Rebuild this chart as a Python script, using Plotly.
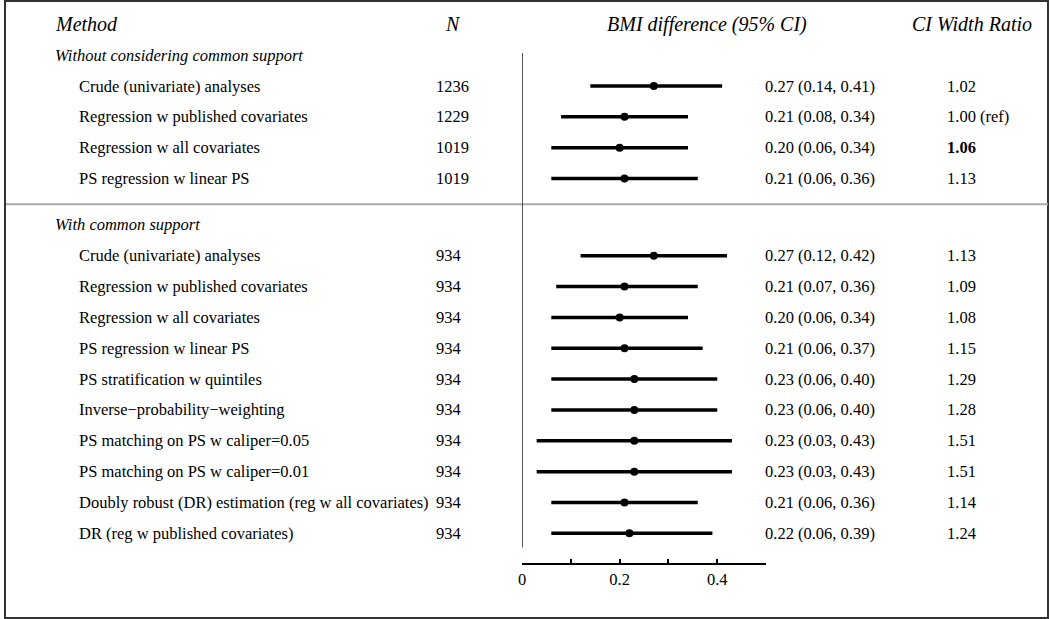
import plotly.graph_objects as go

# ---------------- data ----------------
group1_label = "Without considering common support"
group2_label = "With common support"

methods_g1 = ["Crude (univariate) analyses", "Regression w published covariates",
              "Regression w all covariates", "PS regression w linear PS"]
n_g1 = [1236, 1229, 1019, 1019]
est_g1 = [0.27, 0.21, 0.20, 0.21]
lo_g1 = [0.14, 0.08, 0.06, 0.06]
hi_g1 = [0.41, 0.34, 0.34, 0.36]
ratio_g1 = ["1.02", "1.00 (ref)", "<b>1.06</b>", "1.13"]

methods_g2 = ["Crude (univariate) analyses", "Regression w published covariates",
              "Regression w all covariates", "PS regression w linear PS",
              "PS stratification w quintiles", "Inverse\u2212probability\u2212weighting",
              "PS matching on PS w caliper=0.05", "PS matching on PS w caliper=0.01",
              "Doubly robust (DR) estimation (reg w all covariates)",
              "DR (reg w published covariates)"]
n_g2 = [934] * 10
est_g2 = [0.27, 0.21, 0.20, 0.21, 0.23, 0.23, 0.23, 0.23, 0.21, 0.22]
lo_g2 = [0.12, 0.07, 0.06, 0.06, 0.06, 0.06, 0.03, 0.03, 0.06, 0.06]
hi_g2 = [0.42, 0.36, 0.34, 0.37, 0.40, 0.40, 0.43, 0.43, 0.36, 0.39]
ratio_g2 = ["1.13", "1.09", "1.08", "1.15", "1.29", "1.28", "1.51", "1.51", "1.14", "1.24"]

headers = ["Method", "N", "BMI difference (95% CI)", "CI Width Ratio"]
tick_vals = [0, 0.1, 0.2, 0.3, 0.4, 0.5]
tick_text = ["0", "", "0.2", "", "0.4", ""]

# ---------------- layout helpers ----------------
W, H = 1050, 619
FONT = "Liberation Serif"
UNIT = 30.85          # px per row
FIRST_ROW_PX = 86.0   # pixel centre of first data row (row index 2)

rows_g1 = [2 + i for i in range(len(methods_g1))]
rows_g2 = [rows_g1[-1] + 2.5 + i for i in range(len(methods_g2))]
row_hdr, row_g1, row_g2 = 0, 1, rows_g1[-1] + 1.5
row_sep = rows_g1[-1] + 0.83

y_top = 2 - FIRST_ROW_PX / UNIT
y_bot = 2 + (H - FIRST_ROW_PX) / UNIT

def px(x):
    return x / W

methods = methods_g1 + methods_g2
ns = n_g1 + n_g2
est = est_g1 + est_g2
lo = lo_g1 + lo_g2
hi = hi_g1 + hi_g2
ratio = ratio_g1 + ratio_g2
cis = [f"{e:.2f} ({l:.2f}, {h:.2f})" for e, l, h in zip(est, lo, hi)]
rows = rows_g1 + rows_g2

fig = go.Figure()

# CI lines
lx, ly = [], []
for l, h, r in zip(lo, hi, rows):
    lx += [l, h, None]
    ly += [r, r, None]
fig.add_trace(go.Scatter(x=lx, y=ly, mode="lines",
                         line=dict(color="black", width=3.5),
                         hoverinfo="skip", showlegend=False))
fig.add_trace(go.Scatter(x=est, y=rows, mode="markers",
                         marker=dict(color="black", size=8),
                         showlegend=False))

ann = []
def add_text(x, y, text, size=16.5, anchor="left", italic=False):
    ann.append(dict(x=px(x), y=y, xref="paper", yref="y", text=text,
                    showarrow=False, xanchor=anchor, yanchor="middle",
                    font=dict(family=FONT, size=size, color="black",
                              style="italic" if italic else "normal")))

add_text(49, row_hdr, headers[0], 20, "left", True)
add_text(450.5, row_hdr, headers[1], 20, "center", True)
add_text(706, row_hdr, headers[2], 20, "center", True)
add_text(971.5, row_hdr, headers[3], 20, "center", True)
add_text(49, row_g1, group1_label, 16.5, "left", True)
add_text(49, row_g2, group2_label, 16.5, "left", True)

for m, n, c, rt, r in zip(methods, ns, cis, ratio, rows):
    add_text(73, r, m)
    add_text(432, r, str(n))
    add_text(762, r, c)
    add_text(945, r, rt)

shapes = [
    dict(type="rect", xref="paper", yref="paper", x0=px(1), x1=px(1048),
         y0=1 / H, y1=1 - 1 / H, line=dict(color="#333333", width=2)),
    dict(type="line", xref="paper", yref="y", x0=px(2), x1=px(1048),
         y0=row_sep, y1=row_sep, line=dict(color="#aaaaaa", width=2)),
    dict(type="line", xref="x", yref="y", x0=0, x1=0,
         y0=row_hdr + 0.93, y1=rows[-1] + 0.46, line=dict(color="#222222", width=1.5)),
]

fig.update_layout(
    width=W, height=H,
    margin=dict(l=0, r=0, t=0, b=0),
    paper_bgcolor="white", plot_bgcolor="white",
    annotations=ann, shapes=shapes,
    xaxis=dict(domain=[px(520), px(765)], range=[0, 0.5], anchor="free",
               position=1 - 564 / H, showline=True, linecolor="black",
               linewidth=1.5, ticks="inside", ticklen=4, tickwidth=1.5,
               tickcolor="black", tickvals=tick_vals, ticktext=tick_text,
               tickfont=dict(family=FONT, size=16.5, color="black"),
               showgrid=False, zeroline=False, fixedrange=True),
    yaxis=dict(domain=[0, 1], range=[y_bot, y_top], visible=False,
               showgrid=False, zeroline=False, fixedrange=True),
    font=dict(family=FONT, color="black"),
)

fig.write_html("out.html", config={"displayModeBar": False},
               post_script="document.body.style.margin='0px';"
                           "document.body.style.overflow='hidden';")
